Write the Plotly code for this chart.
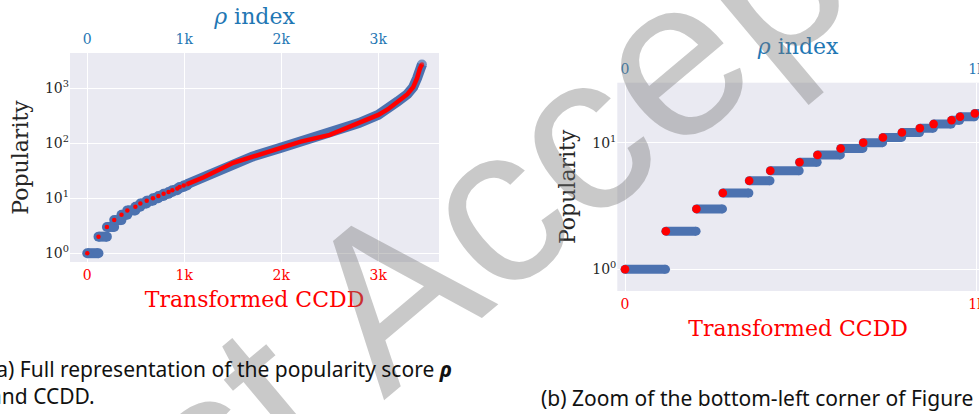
import plotly.graph_objects as go

# ---------------- data ----------------
# distinct popularity levels and the rho-index where each level starts
levels = [1, 2, 3, 4, 5, 6, 7, 8, 9, 10, 11, 12, 13, 14, 15, 16, 17]
level_start = [0, 116, 203, 278, 353, 413, 496, 547, 613, 677, 733, 787, 838, 877, 928, 952, 994]
last_level_end = 1029

# upper part of the sorted popularity curve
curve_idx = [1030, 1200, 1505, 1700, 2000, 2200, 2500, 2800, 3000, 3100, 3200, 3300, 3360, 3400, 3430, 3450]
curve_pop = [18, 24, 44, 57, 83, 107, 142, 232, 327, 415, 574, 779, 1047, 1517, 2300, 2700]

x_tick_vals = [0, 1000, 2000, 3000]
x_tick_text = ["0", "1k", "2k", "3k"]
y_tick_vals = [1, 10, 100, 1000]
y_tick_text = ["10<sup>0</sup>", "10<sup>1</sup>", "10<sup>2</sup>", "10<sup>3</sup>"]

caption_a1 = "(a) Full representation of the popularity score <b><i>ρ</i></b>"
caption_a2 = "and CCDD."
caption_b = "(b) Zoom of the bottom-left corner of Figure 3"
watermark = "Just Accepted"

# ---------------- derived step segments ----------------
ends = [s - 1 for s in level_start[1:]] + [last_level_end]
step_x, step_y = [], []
for s, e, v in zip(level_start, ends, levels):
    step_x += [s, e, None]
    step_y += [v, v, None]

BLUE = "#4c72b0"
RED = "#ff0000"
TBLUE = "#1f77b4"
SERIF = "DejaVu Serif"


def end_marker(n, size, color):
    return dict(color=color, size=[size] + [0] * (n - 2) + [size], line=dict(width=0))


fig = go.Figure()
# left panel: blue on top axis (x), red on bottom overlay axis (x2)
fig.add_trace(go.Scatter(x=step_x, y=step_y, xaxis="x", yaxis="y", mode="lines+markers",
                         line=dict(color=BLUE, width=10),
                         marker=dict(color=BLUE, size=10, line=dict(width=0)),
                         showlegend=False, connectgaps=False))
fig.add_trace(go.Scatter(x=curve_idx, y=curve_pop, xaxis="x", yaxis="y", mode="lines+markers",
                         line=dict(color=BLUE, width=10),
                         marker=end_marker(len(curve_idx), 10, BLUE), showlegend=False))
fig.add_trace(go.Scatter(x=level_start, y=levels, xaxis="x2", yaxis="y", mode="markers",
                         marker=dict(color=RED, size=4.5, line=dict(width=0)), showlegend=False))
fig.add_trace(go.Scatter(x=curve_idx, y=curve_pop, xaxis="x2", yaxis="y", mode="lines+markers",
                         line=dict(color=RED, width=4.5),
                         marker=end_marker(len(curve_idx), 4.5, RED), showlegend=False))
# right panel (zoom)
fig.add_trace(go.Scatter(x=step_x, y=step_y, xaxis="x3", yaxis="y2", mode="lines+markers",
                         line=dict(color=BLUE, width=9),
                         marker=dict(color=BLUE, size=9, line=dict(width=0)),
                         showlegend=False, connectgaps=False))
fig.add_trace(go.Scatter(x=curve_idx, y=curve_pop, xaxis="x3", yaxis="y2", mode="lines+markers",
                         line=dict(color=BLUE, width=9),
                         marker=end_marker(len(curve_idx), 9, BLUE), showlegend=False))
fig.add_trace(go.Scatter(x=level_start, y=levels, xaxis="x4", yaxis="y2", mode="markers",
                         marker=dict(color=RED, size=8.5, line=dict(width=0)), showlegend=False))

W, H = 979, 414


def px(v):
    return v / W


def py(v):
    return 1 - v / H


common_x = dict(tickvals=x_tick_vals, ticktext=x_tick_text, showline=False, zeroline=False,
                ticks="", automargin=False, ticklabeloverflow="allow")
bottom_font = dict(family=SERIF, size=14, color=RED)
top_font = dict(family=SERIF, size=14, color=TBLUE)
ytick_font = dict(family=SERIF, size=14, color="#262626")
ytitle_font = dict(family=SERIF, size=22, color="#262626")

fig.update_layout(
    template="none",
    width=W, height=H,
    margin=dict(l=0, r=0, t=0, b=0),
    paper_bgcolor="white",
    plot_bgcolor="#eaeaf2",
    font=dict(family=SERIF, color="#262626"),
    showlegend=False,
    # left panel
    xaxis=dict(domain=[px(70), px(439)], anchor="y", range=[-178, 3626], side="top",
               showgrid=True, gridcolor="white", gridwidth=1.2, tickfont=top_font,
               ticklabelstandoff=5,
               title=dict(text="<i>ρ</i> index", font=dict(family=SERIF, size=22, color=TBLUE), standoff=0),
               **common_x),
    xaxis2=dict(overlaying="x", anchor="y", range=[-178, 3626], side="bottom", showgrid=False,
                tickfont=bottom_font, ticklabelstandoff=3,
                title=dict(text="Transformed CCDD", font=dict(family=SERIF, size=22, color=RED), standoff=9),
                **common_x),
    yaxis=dict(domain=[py(262), py(53)], anchor="x", type="log", range=[-0.16, 3.64],
               tickvals=y_tick_vals, ticktext=y_tick_text, showgrid=True, gridcolor="white", gridwidth=1.2,
               showline=False, zeroline=False, ticks="", automargin=False, tickfont=ytick_font,
               title=dict(text="Popularity", font=ytitle_font, standoff=10)),
    # right panel
    xaxis3=dict(domain=[px(617.3), 1.0], anchor="y2", range=[-22, 1006], side="top",
                showgrid=True, gridcolor="white", gridwidth=1.2, tickfont=top_font,
                ticklabelstandoff=5,
                title=dict(text="<i>ρ</i> index", font=dict(family=SERIF, size=22, color=TBLUE), standoff=0),
                **common_x),
    xaxis4=dict(overlaying="x3", anchor="y2", range=[-22, 1006], side="bottom", showgrid=False,
                tickfont=bottom_font, ticklabelstandoff=3,
                title=dict(text="Transformed CCDD", font=dict(family=SERIF, size=22, color=RED), standoff=9),
                **common_x),
    yaxis2=dict(domain=[py(291), py(82.7)], anchor="x3", type="log", range=[-0.171, 1.473],
                tickvals=y_tick_vals, ticktext=y_tick_text, showgrid=True, gridcolor="white", gridwidth=1.2,
                showline=False, zeroline=False, ticks="", automargin=False, tickfont=ytick_font,
                title=dict(text="Popularity", font=ytitle_font, standoff=10)),
)

cap_font = dict(family="Noto Sans", size=21, color="#111111")
fig.add_annotation(text=watermark, xref="paper", yref="paper", x=px(515.6), y=py(187.7),
                   xanchor="center", yanchor="middle", textangle=-40, showarrow=False,
                   font=dict(family="Liberation Sans", size=225, color="rgba(120,120,120,0.4)"))
fig.add_annotation(text=caption_a1, xref="paper", yref="paper", x=px(-12), y=py(369),
                   xanchor="left", yanchor="middle", showarrow=False, font=cap_font)
fig.add_annotation(text=caption_a2, xref="paper", yref="paper", x=px(-12), y=py(396),
                   xanchor="left", yanchor="middle", showarrow=False, font=cap_font)
fig.add_annotation(text=caption_b, xref="paper", yref="paper", x=px(539), y=py(398),
                   xanchor="left", yanchor="middle", showarrow=False, font=cap_font)

fig.write_html("out.html")
